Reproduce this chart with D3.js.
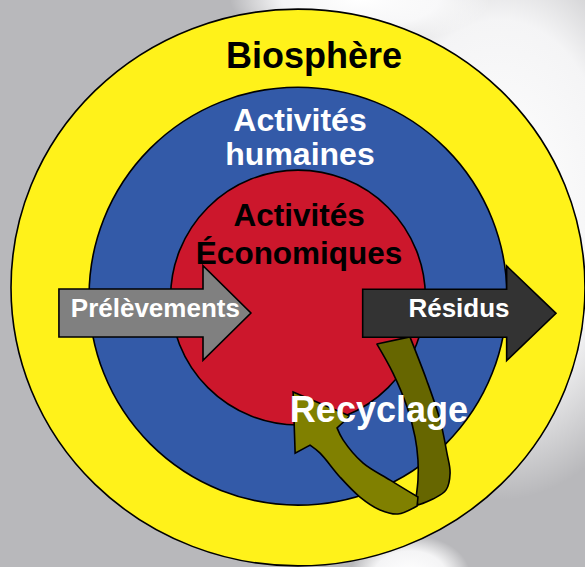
<!DOCTYPE html>
<html>
<head>
<meta charset="utf-8">
<script src="https://cdn.jsdelivr.net/npm/d3@7"></script>
<style>
	html, body { margin: 0; padding: 0; background: #fff; }
	svg { display: block; }
	text { font-family: 'Liberation Sans', Arial, sans-serif; font-weight: bold; }
</style>
</head>
<body>
<div id="chart"></div>
<script>
// Diagram content
const ringLabels = [['Biosphère'], ['Activités', 'humaines'], ['Activités', 'Économiques']];
const ringRadius = [1, 0.728, 0.444]; // relative to the biosphere
const flowLabels = ['Prélèvements', 'Résidus', 'Recyclage'];

// Declare the dimensions
const width = 585;
const height = 567;

// Diagram units: -1..1 spans the biosphere
const x = d3.scaleLinear().domain([-1, 1]).range([11, 585]);
const y = d3.scaleLinear().domain([-1, 1]).range([10, 584]);
const r = d3.scaleLinear().domain([0, 1]).range([0, 287]);

// Layout and styles
const ringColors = ['#fff21a', '#335aa8', '#cc172c'];
const ringShape = [
	{ dy: -0.033, sy: 0.97 },
	{ dy: -0.003, sy: 1 },
	{ dy: 0.002, sy: 1 }
];
const ringText = [
	{ x: 0.056, y: -0.798, size: 36, lh: 0, color: '#000' },
	{ x: 0.007, y: -0.577, size: 32, lh: 0.118, color: '#fff' },
	{ x: 0.004, y: -0.248, size: 31.5, lh: 0.133, color: '#000' }
];
const arrowShape = [
	{ x0: -0.833, x1: -0.331, x2: -0.164, yc: 0.0557, fill: '#808080' },
	{ x0: 0.2254, x1: 0.727, x2: 0.899, yc: 0.0568, fill: '#333333' }
];
const bodyHalf = 0.0836;
const headHalf = 0.165;
const flowText = [
	{ x: -0.497, y: 0.071, size: 26 },
	{ x: 0.561, y: 0.069, size: 26 },
	{ x: 0.282, y: 0.434, size: 36 }
];

// Recycling loop outline, in diagram units
const loopBack = [
	{ pts: [[0.275, 0.164], [0.39, 0.139]] },
	{ smooth: true, pts: [[0.39, 0.139], [0.448, 0.289], [0.495, 0.429], [0.519, 0.544], [0.53, 0.613], [0.516, 0.672], [0.47, 0.704], [0.418, 0.725]] },
	{ pts: [[0.418, 0.725], [0.411, 0.7]] },
	{ smooth: true, pts: [[0.411, 0.7], [0.418, 0.638], [0.418, 0.568], [0.408, 0.488], [0.38, 0.383], [0.331, 0.265], [0.275, 0.164]] }
];
const loopFront = [
	{ pts: [[0.418, 0.697], [0.415, 0.728]] },
	{ smooth: true, pts: [[0.415, 0.728], [0.348, 0.756], [0.286, 0.742], [0.216, 0.697], [0.146, 0.627], [0.077, 0.544], [0.042, 0.516]] },
	{ pts: [[0.042, 0.516], [-0.01, 0.544], [-0.017, 0.331], [0.181, 0.415], [0.136, 0.456]] },
	{ smooth: true, pts: [[0.136, 0.456], [0.157, 0.498], [0.226, 0.578], [0.321, 0.638], [0.418, 0.697]] }
];

// Create the svg container
const svg = d3
	.select('#chart')
	.append('svg')
	.attr('width', width)
	.attr('height', height)
	.attr('viewBox', [0, 0, width, height]);

// Background: grey with light patches
const defs = svg.append('defs');
const glow = defs.append('radialGradient').attr('id', 'glow');
glow.append('stop').attr('offset', '0%').attr('stop-color', '#fff').attr('stop-opacity', 1);
glow.append('stop').attr('offset', '60%').attr('stop-color', '#fbfbfc').attr('stop-opacity', 0.9);
glow.append('stop').attr('offset', '100%').attr('stop-color', '#fff').attr('stop-opacity', 0);

svg.append('rect').attr('width', width).attr('height', height).attr('fill', '#b8b8bb');
svg.append('ellipse')
	.attr('cx', 500).attr('cy', 200).attr('rx', 190).attr('ry', 300)
	.attr('fill', 'url(#glow)');
svg.append('ellipse')
	.attr('cx', 360).attr('cy', 0).attr('rx', 130).attr('ry', 45)
	.attr('fill', 'url(#glow)');
svg.append('ellipse')
	.attr('cx', 410).attr('cy', 575).attr('rx', 60).attr('ry', 40)
	.attr('fill', 'url(#glow)');

// Rings
svg
	.append('g')
	.selectAll('ellipse')
	.data(ringRadius)
	.join('ellipse')
	.attr('cx', x(0))
	.attr('cy', (d, i) => y(ringShape[i].dy))
	.attr('rx', (d) => r(d))
	.attr('ry', (d, i) => r(d * ringShape[i].sy))
	.attr('fill', (d, i) => ringColors[i])
	.attr('stroke', '#000')
	.attr('stroke-width', 1.6);

// Ring labels
svg
	.append('g')
	.selectAll('text')
	.data(ringLabels)
	.join('text')
	.attr('text-anchor', 'middle')
	.attr('fill', (d, i) => ringText[i].color)
	.style('font-size', (d, i) => ringText[i].size + 'px')
	.each(function (d, i) {
		d3.select(this)
			.selectAll('tspan')
			.data(d)
			.join('tspan')
			.attr('x', x(ringText[i].x))
			.attr('y', (t, j) => y(ringText[i].y) + r(ringText[i].lh * j))
			.text((t) => t);
	});

// Straight arrows
function arrowPath(a) {
	const pts = [
		[a.x0, a.yc - bodyHalf],
		[a.x1, a.yc - bodyHalf],
		[a.x1, a.yc - headHalf],
		[a.x2, a.yc],
		[a.x1, a.yc + headHalf],
		[a.x1, a.yc + bodyHalf],
		[a.x0, a.yc + bodyHalf]
	];
	return d3.line().x((p) => x(p[0])).y((p) => y(p[1]))(pts) + 'Z';
}

// Recycling loop
const straight = d3.line().x((p) => x(p[0])).y((p) => y(p[1]));
const smooth = d3
	.line()
	.x((p) => x(p[0]))
	.y((p) => y(p[1]))
	.curve(d3.curveCatmullRom.alpha(0.5));

function outline(parts) {
	return (
		parts
			.map((p, i) => {
				const s = (p.smooth ? smooth : straight)(p.pts);
				return i ? 'L' + s.slice(1) : s;
			})
			.join('') + 'Z'
	);
}

function drawArrow(i) {
	svg
		.append('path')
		.attr('d', arrowPath(arrowShape[i]))
		.attr('fill', arrowShape[i].fill)
		.attr('stroke', '#000')
		.attr('stroke-width', 1.6)
		.attr('stroke-linejoin', 'miter');
	flowLabel(i);
}

function flowLabel(i) {
	svg
		.append('text')
		.attr('x', x(flowText[i].x))
		.attr('y', y(flowText[i].y))
		.attr('text-anchor', 'middle')
		.attr('fill', '#fff')
		.style('font-size', flowText[i].size + 'px')
		.text(flowLabels[i]);
}

drawArrow(0);

svg
	.append('path')
	.attr('d', outline(loopBack))
	.attr('fill', '#666600')
	.attr('stroke', '#000')
	.attr('stroke-width', 1.6)
	.attr('stroke-linejoin', 'round');

svg
	.append('path')
	.attr('d', outline(loopFront))
	.attr('fill', '#808000')
	.attr('stroke', '#000')
	.attr('stroke-width', 1.6)
	.attr('stroke-linejoin', 'miter');

drawArrow(1);
flowLabel(2);
</script>
</body>
</html>
